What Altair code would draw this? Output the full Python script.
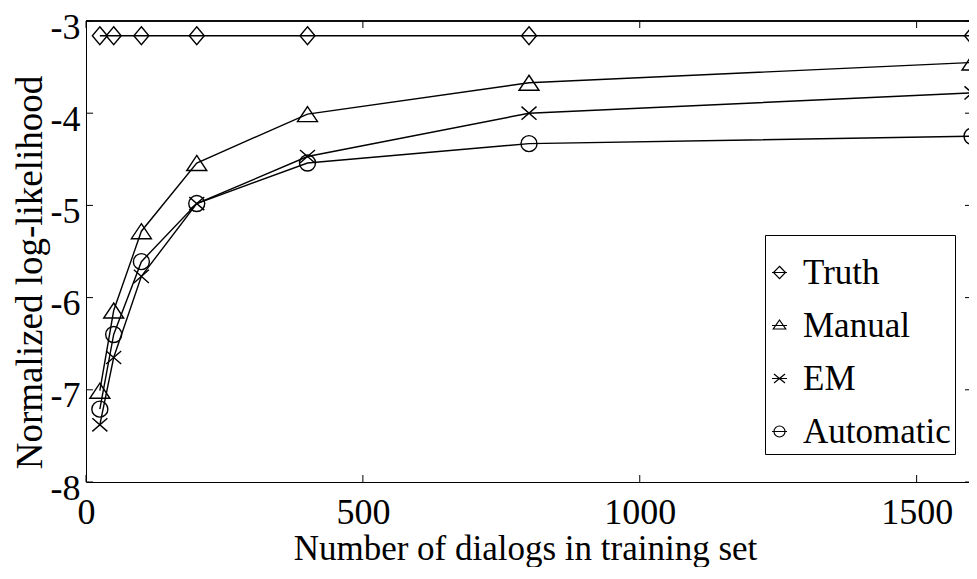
import altair as alt
import pandas as pd

# ---- data ----
x_vals = [25, 50, 100, 200, 400, 800, 1600]
series_names = ["Truth", "Manual", "EM", "Automatic"]
truth = [-3.16, -3.16, -3.16, -3.16, -3.16, -3.16, -3.16]
manual = [-7.01, -6.14, -5.28, -4.54, -4.01, -3.67, -3.45]
em = [-7.38, -6.65, -5.77, -4.98, -4.47, -4.00, -3.78]
automatic = [-7.21, -6.40, -5.61, -4.98, -4.54, -4.33, -4.25]
x_ticks = [0, 500, 1000, 1500]
y_ticks = [-8, -7, -6, -5, -4, -3]

rows = []
for name, vals in zip(series_names, [truth, manual, em, automatic]):
    for xv, yv in zip(x_vals, vals):
        rows.append({"n": xv, "ll": yv, "series": name})
df = pd.DataFrame(rows)
xt = pd.DataFrame({"v": x_ticks})
yt = pd.DataFrame({"v": y_ticks})

W, H = 886, 461
FONT = "Liberation Serif"

# marker shapes (unit paths, scaled by sqrt(size)/2)
plot_paths = [
    "M0,-1.12L0.94,0L0,1.12L-0.94,0Z",
    "M0,-0.94L1.25,0.94L-1.25,0.94Z",
    "M-0.94,-0.82L0.94,0.82M-0.94,0.82L0.94,-0.82",
    "circle",
]
legend_paths = [
    "M0,-1.25L1.2,0L0,1.25L-1.2,0ZM-1.5,0L1.5,0",
    "M0,-1.1L1.25,0.7L-1.25,0.7ZM-1.5,0L1.5,0",
    "M-1.1,-0.9L1.1,0.9M-1.1,0.9L1.1,-0.9M-1.5,0L1.5,0",
    "M1.1,0A1.1,1.1,0,1,1,-1.1,0A1.1,1.1,0,1,1,1.1,0ZM-1.5,0L1.5,0",
]

xscale = alt.Scale(domain=[0, 1600], nice=False, zero=False)
yscale = alt.Scale(domain=[-8, -3], nice=False, zero=False)

x_axis = alt.Axis(
    values=x_ticks, labelExpr="'' + datum.value", title="Number of dialogs in training set",
    grid=False, ticks=False, tickSize=0, labelPadding=13, labelFlush=False, labelOverlap=False,
    labelFont=FONT, labelFontSize=36, labelColor="black",
    domainColor="black", domainWidth=1,
    titleFont=FONT, titleFontSize=35, titleFontWeight="normal", titleColor="black",
    titleX=439, titleY=77, titleBaseline="alphabetic", titleAlign="center",
)
y_axis = alt.Axis(
    values=y_ticks, labelExpr="'' + datum.value", title="Normalized log-likelihood",
    grid=False, ticks=False, tickSize=0, labelPadding=6, labelOffset=6, labelFlush=False,
    labelOverlap=False, labelFont=FONT, labelFontSize=36, labelColor="black",
    domainColor="black", domainWidth=1,
    titleFont=FONT, titleFontSize=37, titleFontWeight="normal", titleColor="black",
    titleX=-45, titleY=251, titleAngle=270, titleBaseline="alphabetic", titleAlign="center",
)

X_ENC = dict(scale=xscale, axis=x_axis)
Y_ENC = dict(scale=yscale, axis=y_axis)

base = alt.Chart(df)

lines = base.mark_line(color="black", strokeWidth=1.4).encode(
    x=alt.X("n:Q", **X_ENC),
    y=alt.Y("ll:Q", **Y_ENC),
    detail="series:N",
)

points = base.mark_point(filled=False, color="black", strokeWidth=1.4, size=256, opacity=1).encode(
    x=alt.X("n:Q", **X_ENC),
    y=alt.Y("ll:Q", **Y_ENC),
    shape=alt.Shape("series:N", scale=alt.Scale(domain=series_names, range=plot_paths), legend=None),
)

legend_layer = base.transform_filter("false").mark_point(
    filled=False, color="black", strokeWidth=1.2, opacity=1
).encode(
    x=alt.X("n:Q", **X_ENC),
    y=alt.Y("ll:Q", **Y_ENC),
    shape=alt.Shape(
        "series:N",
        scale=alt.Scale(domain=series_names, range=legend_paths),
        legend=alt.Legend(
            title=" ", titleFontSize=10, titlePadding=6,
            orient="none", legendX=679, legendY=214,
            labelFont=FONT, labelFontSize=35, labelColor="black", labelLimit=400,
            labelExpr="datum.label + '\u00a0\u00a0'",
            symbolSize=100, symbolStrokeWidth=1.2, symbolStrokeColor="black",
            symbolFillColor="transparent", symbolOpacity=1, symbolOffset=-7,
            padding=4, rowPadding=17, labelOffset=6,
            strokeColor="black", fillColor="white", cornerRadius=0,
        ),
    ),
)

left_ticks = alt.Chart(yt).mark_rule(color="black", strokeWidth=1).encode(
    y=alt.Y("v:Q", **Y_ENC), x=alt.value(0), x2=alt.value(7)
)
right_ticks = alt.Chart(yt).mark_rule(color="black", strokeWidth=1).encode(
    y=alt.Y("v:Q", **Y_ENC), x=alt.value(W - 7), x2=alt.value(W)
)
bottom_ticks = alt.Chart(xt).mark_rule(color="black", strokeWidth=1).encode(
    x=alt.X("v:Q", **X_ENC), y=alt.value(H - 7), y2=alt.value(H)
)
top_ticks = alt.Chart(xt).mark_rule(color="black", strokeWidth=1).encode(
    x=alt.X("v:Q", **X_ENC), y=alt.value(0), y2=alt.value(7)
)
top_border = alt.Chart(xt).mark_rule(color="black", strokeWidth=1).encode(
    x=alt.value(0), x2=alt.value(W), y=alt.value(0)
)

chart = (
    alt.layer(lines, points, left_ticks, right_ticks, bottom_ticks, top_ticks, top_border, legend_layer)
    .resolve_scale(shape="independent")
    .properties(
        width=W, height=H,
        autosize=alt.AutoSizeParams(type="none"),
        padding={"left": 78, "top": 13, "right": -3, "bottom": 85},
        background="white",
    )
    .configure_view(stroke="transparent")
)

chart.save("out.html", embed_options={"renderer": "svg", "actions": False})
